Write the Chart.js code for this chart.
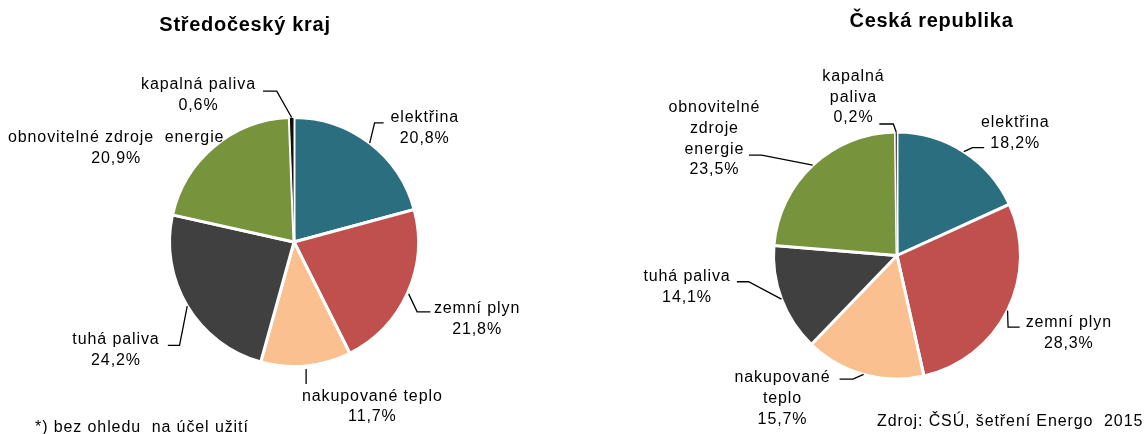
<!DOCTYPE html>
<html><head><meta charset="utf-8">
<script src="https://cdn.jsdelivr.net/npm/chart.js@4.4.1/dist/chart.umd.min.js"></script>
<style>
html,body{margin:0;padding:0;background:#fff;width:1147px;height:434px;overflow:hidden;}
#wrap{position:relative;width:1147px;height:434px;}
canvas{position:absolute;top:0;}
#c1{left:0}
#c2{left:573px}
</style></head><body>
<div id="wrap"><canvas id="c1" width="573" height="434"></canvas><canvas id="c2" width="574" height="434"></canvas></div>
<script>
// ---- data ----
const categories = ['elektřina', 'zemní plyn', 'nakupované teplo', 'tuhá paliva', 'obnovitelné zdroje energie', 'kapalná paliva'];
const regionValues = [20.8, 21.8, 11.7, 24.2, 20.9, 0.6];
const nationalValues = [18.2, 28.3, 15.7, 14.1, 23.5, 0.2];
const titles = ['Středočeský kraj', 'Česká republika'];
const regionLabelLines = [['elektřina'], ['zemní plyn'], ['nakupované teplo'], ['tuhá paliva'], ['obnovitelné zdroje  energie'], ['kapalná paliva']];
const nationalLabelLines = [['elektřina'], ['zemní plyn'], ['nakupované', 'teplo'], ['tuhá paliva'], ['obnovitelné', 'zdroje', 'energie'], ['kapalná', 'paliva']];
const footnote = '*) bez ohledu  na účel užití';
const sourceNote = 'Zdroj: ČSÚ, šetření Energo  2015';

// ---- styles / layout ----
const sliceColors = ['#2A6E80', '#C0504D', '#FAC090', '#404040', '#77933C', '#0D0D0D'];
const FONT = '"Liberation Sans", Arial, sans-serif';
const LINE_H = 20.7;

const regionLayout = {
  padding: {left: 170, right: 155, top: 118, bottom: 68}, radius: 124.5,
  borderWidths: [3, 3, 3, 3, 3, 1],
  title: {x: 245, y: 25.5},
  note: {x: 35, y: 428, align: 'left'},
  labels: [
    {dx: 54.6, dy: -15.3, leader: [[0, 0], [4.9, -20.3], [13.9, -20.3]]},
    {dx: 69, dy: 26.3, leader: [[1, 1], [9.5, 19], [22.8, 19]]},
    {dx: 65.8, dy: 40.6, leader: [[0, 3], [0, 18]]},
    {dx: -71.7, dy: 44.3, leader: [[0, 0], [-7.7, 39.3], [-19.4, 39.3]]},
    {dx: -98.6, dy: 1.9, leader: null},
    {dx: -93.6, dy: -22.2, leader: [[0, 0], [-14.9, -26.3], [-28.6, -26.3]]}
  ]
};
const nationalLayout = {
  padding: {left: 202, right: 128, top: 133, bottom: 56}, radius: 123.5,
  borderWidths: [3, 3, 3, 3, 3, 0.5],
  title: {x: 358.5, y: 21},
  note: {x: 304, y: 421.7, align: 'left'},
  labels: [
    {dx: 51, dy: -18.2, leader: [[0, 0], [8.7, -4.1], [20.3, -4.1]]},
    {dx: 60.8, dy: 22.8, leader: [[0, 0], [0.5, 16.6], [12.1, 16.6]]},
    {dx: -81.6, dy: 24.2, leader: [[0, 0], [-10.8, 4.8], [-24.1, 4.8]]},
    {dx: -94.9, dy: -12.2, leader: [[0, 0], [-32.9, -17.4], [-44.6, -17.4]]},
    {dx: -98.8, dy: -26.3, leader: [[0, 0], [-51.1, -10.1], [-63.8, -10.1]]},
    {dx: -43.2, dy: -34.9, leader: [[0, 0], [-2.9, -8], [-16.9, -8]]}
  ]
};

function fmt(v) { return v.toFixed(1).replace('.', ',') + '%'; }

function makeLabelPlugin(title, lines, layout, noteText) {
  return {
    id: 'sliceLabels',
    afterDraw(chart) {
      const ctx = chart.ctx;
      const meta = chart.getDatasetMeta(0);
      const values = chart.data.datasets[0].data;
      ctx.save();
      ctx.fillStyle = '#000';
      ctx.strokeStyle = '#000';
      ctx.lineWidth = 1.3;
      ctx.lineJoin = 'miter';
      meta.data.forEach((arc, i) => {
        const p = arc.getProps(['x', 'y', 'startAngle', 'endAngle', 'outerRadius'], true);
        const a = (p.startAngle + p.endAngle) / 2;
        const ex = p.x + Math.cos(a) * p.outerRadius;
        const ey = p.y + Math.sin(a) * p.outerRadius;
        const L = layout.labels[i];
        if (L.leader) {
          ctx.beginPath();
          L.leader.forEach((pt, k) => {
            if (k === 0) ctx.moveTo(ex + pt[0], ey + pt[1]);
            else ctx.lineTo(ex + pt[0], ey + pt[1]);
          });
          ctx.stroke();
        }
        const textLines = lines[i].concat([fmt(values[i])]);
        const cx = ex + L.dx, cy = ey + L.dy;
        ctx.font = '16px ' + FONT;
        ctx.letterSpacing = '0.9px';
        ctx.textAlign = 'center';
        ctx.textBaseline = 'middle';
        const top = cy - (textLines.length - 1) * LINE_H / 2;
        textLines.forEach((t, k) => ctx.fillText(t, cx + 0.45, top + k * LINE_H));
      });
      // title
      ctx.font = 'bold 20px ' + FONT;
      ctx.letterSpacing = '0.7px';
      ctx.textAlign = 'center';
      ctx.textBaseline = 'middle';
      ctx.fillText(title, layout.title.x, layout.title.y);
      // note
      ctx.font = '16px ' + FONT;
      ctx.letterSpacing = '0.9px';
      ctx.textAlign = layout.note.align;
      ctx.fillText(noteText, layout.note.x, layout.note.y);
      ctx.restore();
    }
  };
}

function makePie(id, values, title, lines, layout, noteText) {
  return new Chart(document.getElementById(id), {
    type: 'pie',
    data: {
      labels: categories,
      datasets: [{
        data: values,
        backgroundColor: sliceColors,
        borderColor: '#ffffff',
        borderWidth: layout.borderWidths,
        borderJoinStyle: 'miter'
      }]
    },
    options: {
      responsive: false,
      animation: false,
      radius: layout.radius,
      layout: {padding: layout.padding},
      plugins: {legend: {display: false}, tooltip: {enabled: false}, title: {display: false}}
    },
    plugins: [makeLabelPlugin(title, lines, layout, noteText)]
  });
}

makePie('c1', regionValues, titles[0], regionLabelLines, regionLayout, footnote);
makePie('c2', nationalValues, titles[1], nationalLabelLines, nationalLayout, sourceNote);
</script>
</body></html>
